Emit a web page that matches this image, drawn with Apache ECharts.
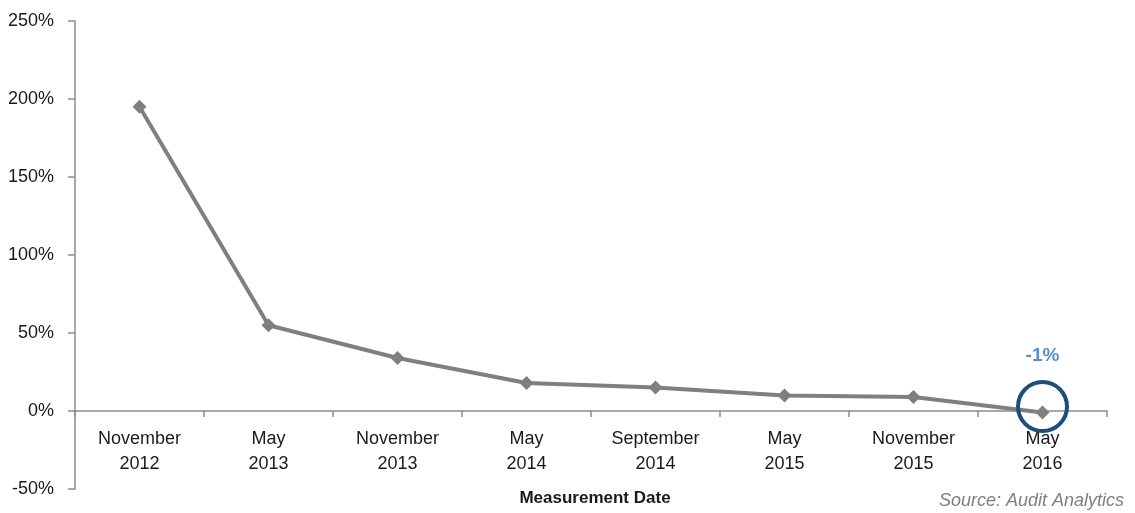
<!DOCTYPE html>
<html>
<head>
<meta charset="utf-8">
<script src="https://cdn.jsdelivr.net/npm/echarts@6/dist/echarts.min.js"></script>
<style>
  html, body { margin: 0; padding: 0; background: #fff; }
  #chart { width: 1135px; height: 513px; }
</style>
</head>
<body>
<div id="chart"></div>
<script>
// 测量日期 和 数值 (%)
var categories = ['November\n2012', 'May\n2013', 'November\n2013', 'May\n2014', 'September\n2014', 'May\n2015', 'November\n2015', 'May\n2016']
var values = [195, 55, 34, 18, 15, 10, 9, -1]
var yTicks = [-50, 0, 50, 100, 150, 200, 250]

var font = '"Liberation Sans Narrow", "Arial Narrow", "Liberation Sans", Arial, sans-serif'
var lastIdx = values.length - 1

var chart = echarts.init(document.getElementById('chart'))
var option = {
  animation: false,
  grid: { left: 75, right: 28, top: 21, bottom: 24, containLabel: false, outerBoundsMode: 'none' },
  title: [{
    text: 'Measurement Date',
    left: 590,
    top: 485,
    textAlign: 'center',
    textStyle: { fontFamily: font, fontSize: 17, fontWeight: 'bold', color: '#1a1a1a' }
  }, {
    text: 'Source: Audit Analytics',
    right: 6,
    top: 487,
    textStyle: { fontFamily: font, fontSize: 18, fontStyle: 'italic', fontWeight: 'normal', color: '#7f7f7f' }
  }],
  xAxis: [{
    // 零线 和 刻度
    type: 'category',
    data: categories,
    boundaryGap: true,
    axisLine: { onZero: true, lineStyle: { color: '#8c8c8c', width: 1.5 } },
    axisTick: { show: true, length: 6, lineStyle: { color: '#8c8c8c', width: 1.5 } },
    axisLabel: { show: false }
  }, {
    // 标签 放在零线下方
    type: 'category',
    data: categories,
    position: 'bottom',
    offset: -79,
    boundaryGap: true,
    axisLine: { show: false, onZero: false },
    axisTick: { show: false },
    axisLabel: {
      interval: 0,
      margin: 17,
      fontFamily: font,
      fontSize: 18,
      lineHeight: 25,
      color: '#1a1a1a'
    }
  }],
  yAxis: {
    type: 'value',
    min: yTicks[0],
    max: yTicks[yTicks.length - 1],
    interval: 50,
    axisLine: { show: true, lineStyle: { color: '#8c8c8c', width: 1.5 } },
    axisTick: { show: true, length: 7, lineStyle: { color: '#8c8c8c', width: 1.5 } },
    splitLine: { show: false },
    axisLabel: {
      margin: 21,
      fontFamily: font,
      fontSize: 18,
      color: '#1a1a1a',
      formatter: function (v) { return v + '%' }
    }
  },
  series: [{
    type: 'line',
    data: values,
    symbol: 'diamond',
    symbolSize: 14,
    itemStyle: { color: '#7f7f7f' },
    lineStyle: { color: '#7f7f7f', width: 4 },
    label: { show: false },
    markPoint: {
      symbol: 'circle',
      symbolSize: 49,
      symbolOffset: [0, -6],
      itemStyle: { color: 'rgba(0,0,0,0)', borderColor: '#1f4e79', borderWidth: 4 },
      label: {
        show: true,
        position: 'top',
        distance: 15,
        formatter: values[lastIdx] + '%',
        fontFamily: '"Liberation Sans", Arial, sans-serif',
        fontSize: 19,
        fontWeight: 'bold',
        color: '#5b8fcb'
      },
      data: [{ coord: [lastIdx, values[lastIdx]] }]
    }
  }]
}
chart.setOption(option)
</script>
</body>
</html>
